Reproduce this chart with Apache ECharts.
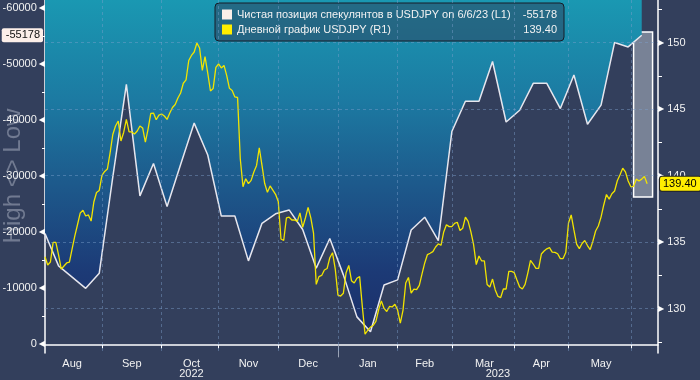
<!DOCTYPE html>
<html><head><meta charset="utf-8">
<script src="https://cdn.jsdelivr.net/npm/echarts@6/dist/echarts.min.js"></script>
<style>html,body{margin:0;padding:0;background:#333f5c}#c{width:700px;height:380px}</style>
</head><body><div id="c"></div>
<script>
// ---------- data ----------
const startDay = [2022, 7, 2];   // 2 Aug 2022 (month 0-based)
const endDay = [2023, 5, 14];    // 14 Jun 2023
const monthNames = ['Jan','Feb','Mar','Apr','May','Jun','Jul','Aug','Sep','Oct','Nov','Dec'];
const cotName = 'Чистая позиция спекулянтов в USDJPY on 6/6/23 (L1)';
const fxName = 'Дневной график USDJPY (R1)';
// weekly net speculative position (Tuesdays, from 2 Aug 2022 to 6 Jun 2023)
const cotValues = [-19800,-14000,-12000,-10000,-12700,-29900,-46400,-26500,-32300,-24600,
  -32100,-39500,-33800,-22900,-22900,-14900,-21600,-23300,-24000,-20500,
  -13600,-18900,-12400,-4900,-2250,-10600,-11500,-20400,-22700,-18500,
  -38000,-43400,-43400,-50500,-39700,-41800,-46600,-46600,-42100,-48100,
  -39300,-42700,-53900,-53100,-55178];
// daily USDJPY close (weekdays from 2 Aug 2022)
const usdjpy = [133.91,133.29,133.51,134.99,134.99,134.04,132.98,133.21,133.44,133.51,
  134.49,135.47,136.33,137.20,137.40,136.97,137.05,136.59,138.02,138.74,
  138.89,140.02,140.32,140.50,141.71,143.10,143.74,144.11,142.61,143.25,
  144.23,143.29,143.29,143.14,143.36,143.74,143.59,142.53,143.51,144.68,
  144.71,144.21,144.56,144.64,144.49,144.23,144.71,145.13,145.35,145.84,
  146.22,146.95,147.20,148.66,149.04,149.30,149.98,149.60,147.91,148.95,
  147.72,146.37,146.56,148.14,148.40,148.10,148.29,147.53,146.57,146.41,
  145.92,145.88,141.26,139.17,139.77,139.40,139.65,140.28,140.77,142.10,
  140.78,139.41,138.75,139.23,138.92,138.60,138.06,135.24,135.13,136.82,
  136.88,136.67,136.67,136.56,137.20,136.12,136.82,137.62,136.83,135.69,
  131.83,132.41,132.50,132.91,133.02,133.83,134.21,133.00,131.02,130.95,
  131.16,132.71,133.25,132.11,131.93,132.29,132.41,130.15,128.08,128.38,
  128.62,128.74,129.05,129.92,130.59,130.02,129.79,130.17,130.13,130.33,
  129.90,128.92,129.90,131.93,132.35,131.17,131.48,131.44,131.76,132.62,
  133.44,134.07,134.17,134.29,134.64,134.87,134.77,135.77,136.31,136.17,
  136.17,136.42,136.50,135.88,136.05,136.89,136.56,135.80,134.83,133.32,
  133.96,133.59,133.59,131.82,131.63,132.23,131.41,130.92,130.84,131.48,
  131.48,132.80,132.80,132.71,132.16,131.63,131.48,131.83,132.68,133.63,
  133.36,133.03,133.03,134.11,134.34,134.50,134.59,134.26,134.24,134.13,
  133.77,133.77,134.22,136.44,137.05,135.92,134.85,134.52,134.90,135.13,
  134.75,134.45,135.08,135.84,136.22,136.89,137.80,138.59,138.24,138.64,
  138.85,139.62,140.07,140.56,140.29,139.60,139.17,139.20,139.74,139.60,
  139.74,139.95,139.40];
const leftTicks = [-60000,-50000,-40000,-30000,-20000,-10000,0];
const leftMinor = [-55000,-45000,-35000,-25000,-15000,-5000];
const rightTicks = [130,135,140,145,150];
const rightMinor = [127.5,132.5,137.5,142.5,147.5,152.5];
const highlightDates = ['2023-06-01','2023-06-12'];
const highlightValues = [138.4, 150.8];

// ---------- derived ----------
const categories = [];
{
  const d = new Date(Date.UTC(startDay[0], startDay[1], startDay[2]));
  const end = Date.UTC(endDay[0], endDay[1], endDay[2]);
  while (d.getTime() <= end) {
    const wd = d.getUTCDay();
    if (wd > 0 && wd < 6) categories.push(d.toISOString().slice(0, 10));
    d.setUTCDate(d.getUTCDate() + 1);
  }
}
const cotDates = categories.filter(c => new Date(c + 'T00:00:00Z').getUTCDay() === 2).slice(0, cotValues.length);
const cotData = cotDates.map((d, i) => [d, cotValues[i]]);
const cotLast = cotValues[cotValues.length - 1];
const fxLast = usdjpy[usdjpy.length - 1];

const monthEnds = new Set(), monthMids = new Set(), yearEnds = new Set(), yearMids = new Set();
function groups(keyLen) {
  const g = []; let s = 0;
  for (let i = 1; i <= categories.length; i++) {
    if (i === categories.length || categories[i].slice(0, keyLen) !== categories[s].slice(0, keyLen)) {
      g.push([s, i - 1]); s = i;
    }
  }
  return g;
}
groups(7).forEach(([a, b]) => {
  if (b < categories.length - 1) monthEnds.add(b);
  if (b - a + 1 >= 15) monthMids.add(Math.floor((a + b) / 2));
});
groups(4).forEach(([a, b]) => {
  if (b < categories.length - 1) yearEnds.add(b);
  yearMids.add(Math.floor((a + b) / 2));
});

const FONT = '"Liberation Sans", Arial, sans-serif';
const gridLine = { color: 'rgba(125,160,205,0.45)', width: 1, type: [3, 3] };

const chart = echarts.init(document.getElementById('c'));
chart.setOption({
  animation: false,
  backgroundColor: '#333f5c',
  textStyle: { fontFamily: FONT },
  grid: { left: 45, right: 42, top: 0, bottom: 27, show: false, containLabel: false, outerBoundsMode: 'none' },
  graphic: [{
    type: 'text', x: 13, y: 176, rotation: Math.PI / 2, z: 0,
    style: { text: 'High <> Low', fill: 'rgba(140,148,168,0.7)', font: '24px ' + FONT, align: 'center', verticalAlign: 'middle' }
  }],
  legend: {
    data: [cotName, fxName], orient: 'vertical', left: 215, top: 3,
    icon: 'rect', itemWidth: 10, itemHeight: 10, itemGap: 2, itemStyle: { borderWidth: 0 },
    padding: [5, 7, 5, 7], backgroundColor: 'rgba(46,62,90,0.5)',
    borderColor: '#161c28', borderWidth: 1, borderRadius: 4,
    textStyle: { color: '#f2f2f2', fontSize: 11, fontFamily: FONT, lineHeight: 13,
      rich: { n: { width: 280, fontSize: 11, color: '#f2f2f2', fontFamily: FONT },
              v: { width: 40, align: 'right', fontSize: 11, color: '#f2f2f2', fontFamily: FONT } } },
    formatter: name => '{n|' + name + '}{v|' + (name === cotName ? String(cotLast) : fxLast.toFixed(2)) + '}'
  },
  xAxis: [{
    type: 'category', data: categories, boundaryGap: false,
    axisLine: { lineStyle: { color: '#ffffff', width: 1.5 } },
    axisTick: { interval: i => monthEnds.has(i), length: 4, lineStyle: { color: '#ffffff' } },
    axisLabel: { interval: i => monthMids.has(i), formatter: v => monthNames[+v.slice(5, 7) - 1],
      color: '#f2f2f2', fontSize: 11, margin: 5, fontFamily: FONT },
    splitLine: { show: false }
  }, {
    type: 'category', data: categories, boundaryGap: false, position: 'bottom', offset: 14,
    axisLine: { show: false },
    axisTick: { interval: i => yearEnds.has(i), length: 13, lineStyle: { color: '#9aa3b5' } },
    axisLabel: { interval: i => yearMids.has(i), formatter: v => v.slice(0, 4),
      color: '#f2f2f2', fontSize: 11, margin: 1, fontFamily: FONT },
    splitLine: { show: false }
  }],
  yAxis: [{
    type: 'value', inverse: true, min: -61480, max: 1550, position: 'left',
    axisLine: { show: true, lineStyle: { color: '#ffffff', width: 1.5 } },
    axisTick: { show: true, customValues: leftMinor, length: 3, lineStyle: { color: '#ffffff' } },
    axisLabel: { customValues: leftTicks, margin: 0, formatter: v => '{v|' + v + '}{p|◀}',
      rich: { v: { color: '#f2f2f2', fontSize: 11, fontFamily: FONT },
              p: { color: '#ffffff', fontSize: 8, padding: [0, 0, 0, 2], fontFamily: 'DejaVu Sans' } } },
    splitLine: { show: false }
  }, {
    type: 'value', min: 126.67, max: 153.21, position: 'right',
    axisLine: { show: true, lineStyle: { color: '#ffffff', width: 1.5 } },
    axisTick: { show: true, customValues: rightMinor, length: 4, lineStyle: { color: '#ffffff' } },
    axisLabel: { customValues: rightTicks, margin: 0, formatter: v => '{p|▶}{v|' + v + '}',
      rich: { v: { color: '#f2f2f2', fontSize: 11, fontFamily: FONT },
              p: { color: '#ffffff', fontSize: 8, padding: [0, 3, 0, 0], fontFamily: 'DejaVu Sans' } } },
    splitLine: { show: false }
  }, {
    type: 'value', inverse: true, min: -61480, max: 1550, position: 'left',
    axisLine: { show: false }, axisTick: { show: false }, splitLine: { show: false },
    axisLabel: { customValues: [cotLast], margin: 2, formatter: v => String(v),
      color: '#111111', fontSize: 11, fontFamily: FONT, backgroundColor: '#fcefe9',
      padding: [2, 3, 1, 4], borderRadius: 2 }
  }, {
    type: 'value', min: 126.67, max: 153.21, position: 'right',
    axisLine: { show: false }, axisTick: { show: false }, splitLine: { show: false },
    axisLabel: { customValues: [fxLast], margin: 2, formatter: v => v.toFixed(2),
      color: '#000000', fontSize: 11, fontFamily: FONT, backgroundColor: '#ffee00',
      borderColor: '#222222', borderWidth: 1, padding: [2, 4, 1, 3], borderRadius: 2 }
  }],
  series: [{
    name: cotName, type: 'line', xAxisIndex: 0, yAxisIndex: 0, data: cotData,
    symbol: 'none', lineStyle: { color: '#e6e6ee', width: 1.5 },
    itemStyle: { color: '#fbefe9' },
    areaStyle: { opacity: 1, origin: 'start',
      color: { type: 'linear', x: 0, y: 0, x2: 0, y2: 1, colorStops: [
        { offset: 0, color: '#1a98b2' }, { offset: 0.3, color: '#1c7aa2' },
        { offset: 0.55, color: '#1d5a8c' }, { offset: 0.82, color: '#1c3a76' },
        { offset: 1, color: '#1c2f69' } ] } },
    markLine: { silent: true, symbol: ['none', 'none'], label: { show: false }, lineStyle: gridLine,
      data: [...monthEnds].map(i => ({ xAxis: categories[i] })) }
  }, {
    type: 'line', xAxisIndex: 0, yAxisIndex: 1, data: [], symbol: 'none',
    markLine: { silent: true, symbol: ['none', 'none'], label: { show: false }, lineStyle: gridLine,
      data: rightTicks.map(v => ({ yAxis: v })) }
  }, {
    name: fxName, type: 'line', xAxisIndex: 0, yAxisIndex: 1, data: usdjpy,
    symbol: 'none', lineStyle: { color: '#f2e400', width: 1.3 },
    itemStyle: { color: '#ffee00' },
    markArea: { silent: true,
      itemStyle: { color: 'rgba(235,238,245,0.38)', borderColor: '#ffffff', borderWidth: 1.5 },
      data: [[{ xAxis: highlightDates[0], yAxis: highlightValues[1] },
              { xAxis: highlightDates[1], yAxis: highlightValues[0] }]] }
  }]
});
</script></body></html>
